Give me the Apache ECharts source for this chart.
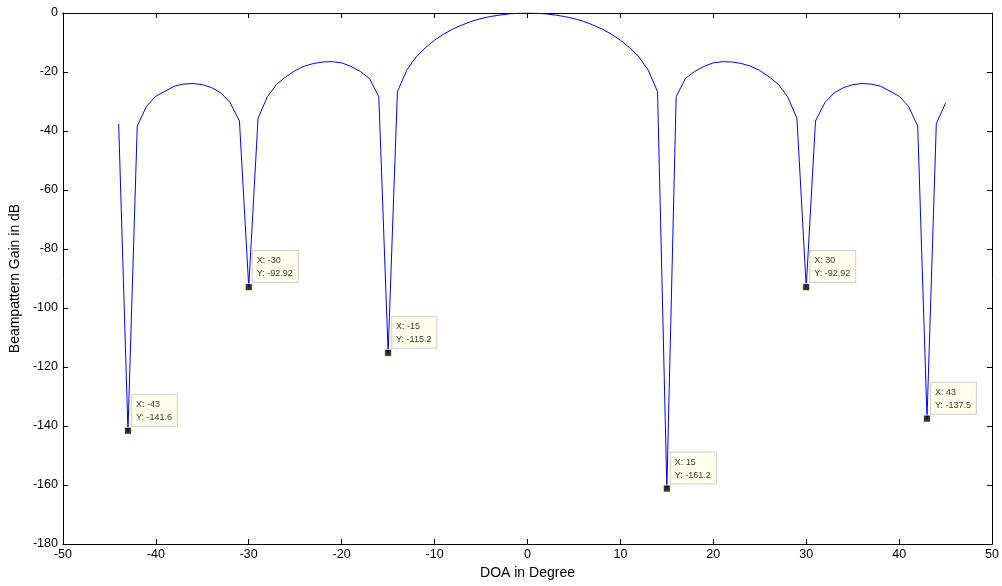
<!DOCTYPE html>
<html>
<head>
<meta charset="utf-8">
<script src="https://cdn.jsdelivr.net/npm/echarts@6/dist/echarts.min.js"></script>
<style>html,body{margin:0;padding:0;background:#fff}#c{width:1002px;height:586px}</style>
</head>
<body>
<div id="c"></div>
<script>
var doa = [];
for (var d = -44; d <= 45; d++) doa.push(d);
var gain = [
-37.6,-141.6,-38.3,-31.6,-28.2,-26.5,-24.8,-24.1,-23.9,-24.3,
-25.3,-27.1,-30.4,-36.6,-92.92,-35.7,-28.4,-24.2,-21.6,-19.5,
-18.0,-17.1,-16.6,-16.5,-16.9,-18.1,-19.8,-22.2,-28.4,-115.2,
-26.7,-19.4,-14.9,-11.8,-9.2,-7.1,-5.4,-4.0,-2.8,-1.9,
-1.2,-0.7,-0.3,-0.1,0,-0.1,-0.3,-0.7,-1.2,-1.9,
-2.8,-4.0,-5.4,-7.1,-9.2,-11.8,-14.9,-19.4,-26.7,-161.2,
-28.4,-22.2,-19.8,-18.1,-16.9,-16.5,-16.6,-17.1,-18.0,-19.5,
-21.6,-24.2,-28.4,-35.7,-92.92,-36.6,-30.4,-27.1,-25.3,-24.3,
-23.9,-24.1,-24.8,-26.5,-28.2,-31.6,-38.3,-137.5,-37.6,-30.5
];
var tipX = [-43, -30, -15, 15, 30, 43];
var tipY = [-141.6, -92.92, -115.2, -161.2, -92.92, -137.5];

var lineData = doa.map(function (x, i) { return [x, gain[i]]; });
var tipData = tipX.map(function (x, i) { return [x, tipY[i]]; });

var font = 'Liberation Sans, Arial, sans-serif';
var axisCommon = {
  axisLine: { show: true, onZero: false, lineStyle: { color: '#000', width: 1 } },
  axisTick: { show: true, inside: true, length: 5, lineStyle: { color: '#000' } },
  splitLine: { show: false },
  axisLabel: { color: '#000', fontSize: 12.5, fontFamily: font }
};
function ax(extra) { return Object.assign({}, JSON.parse(JSON.stringify(axisCommon)), extra); }

var chart = echarts.init(document.getElementById('c'), null, { renderer: 'canvas' });
chart.setOption({
  animation: false,
  backgroundColor: '#fff',
  grid: { left: 62, right: 9, top: 13, bottom: 42 },
  xAxis: [
    ax({ type: 'value', min: -50, max: 50, interval: 10, position: 'bottom',
      name: 'DOA in Degree', nameLocation: 'middle', nameGap: 20,
      nameTextStyle: { color: '#000', fontSize: 14, fontFamily: font },
      axisLabel: { color: '#000', fontSize: 12.5, fontFamily: font, margin: 4 } }),
    ax({ type: 'value', min: -50, max: 50, interval: 10, position: 'top',
      axisLabel: { show: false } })
  ],
  yAxis: [
    ax({ type: 'value', min: -180, max: 0, interval: 20, position: 'left',
      name: 'Beampattern Gain in dB', nameLocation: 'middle', nameGap: 33,
      nameTextStyle: { color: '#000', fontSize: 14, fontFamily: font },
      axisLabel: { color: '#000', fontSize: 12.5, fontFamily: font, margin: 5 } }),
    ax({ type: 'value', min: -180, max: 0, interval: 20, position: 'right',
      axisLabel: { show: false } })
  ],
  series: [
    {
      type: 'line', data: lineData, xAxisIndex: 0, yAxisIndex: 0,
      showSymbol: false, symbol: 'none',
      lineStyle: { color: '#0000ff', width: 1 }, z: 2
    },
    {
      type: 'scatter', data: tipData, xAxisIndex: 0, yAxisIndex: 0,
      symbol: 'rect', symbolSize: 7,
      itemStyle: { color: '#000', borderColor: '#ffffc0', borderWidth: 1 },
      label: {
        show: true,
        position: [8, -32],
        formatter: function (p) { return 'X: ' + p.value[0] + '\nY: ' + p.value[1]; },
        color: '#000', fontSize: 9, fontFamily: font, lineHeight: 13,
        backgroundColor: '#ffffe6', borderColor: '#c8c8c8', borderWidth: 1,
        padding: [3, 5, 2, 4]
      },
      z: 5
    }
  ]
});
</script>
</body>
</html>
